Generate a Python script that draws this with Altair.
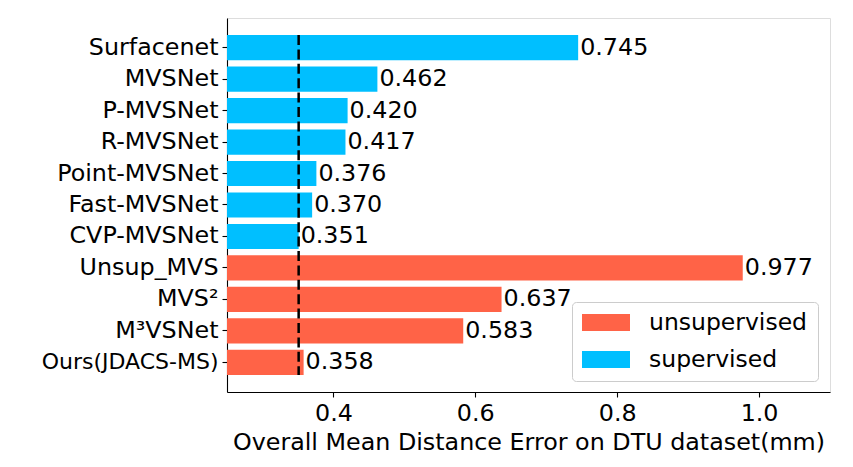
import altair as alt
import pandas as pd

methods = ["Surfacenet", "MVSNet", "P-MVSNet", "R-MVSNet", "Point-MVSNet",
           "Fast-MVSNet", "CVP-MVSNet", "Unsup_MVS", "MVS²", "M³VSNet",
           "Ours(JDACS-MS)"]
errors = [0.745, 0.462, 0.420, 0.417, 0.376, 0.370, 0.351, 0.977, 0.637, 0.583, 0.358]
groups = ["supervised"] * 7 + ["unsupervised"] * 4
group_order = ["unsupervised", "supervised"]
group_colors = ["#FF6347", "#00BFFF"]
ref_value = 0.351
x_ticks = [0.4, 0.6, 0.8, 1.0]
x_domain = [0.25, 1.1]

FONT = "DejaVu Sans"
FS = 23.8

df = pd.DataFrame({"method": methods, "error": errors, "group": groups})
ref_df = pd.DataFrame({"x": [ref_value], "top": [methods[0]], "bottom": [methods[-1]]})

yscale = alt.Scale(domain=methods, paddingInner=0.2, paddingOuter=0.54)
xscale = alt.Scale(domain=x_domain, nice=False, zero=False)

rect_path = "M-1,-0.354L1,-0.354L1,0.354L-1,0.354Z"

ylabel_size = {"condition": {"test": "datum.value === 'Ours(JDACS-MS)'", "value": 22.0},
               "value": FS}

bars = alt.Chart(df).mark_bar(clip=True).encode(
    y=alt.Y("method:N", scale=yscale, sort=methods, title=None,
            axis=alt.Axis(labelFontSize=ylabel_size, labelFont=FONT, labelColor="black",
                          labelLimit=0,
                          tickColor="black", tickSize=5, tickWidth=1.1,
                          labelPadding=4, domainColor="black", domainWidth=1.1)),
    x=alt.X("error:Q", scale=xscale,
            title="Overall Mean Distance Error on DTU dataset(mm)",
            axis=alt.Axis(values=x_ticks, format=".1f", labelFontSize=FS,
                          labelFont=FONT, labelColor="black", tickColor="black",
                          tickSize=5, tickWidth=1.1, labelPadding=4, grid=False,
                          domainColor="black", domainWidth=1.1,
                          titleFontSize=FS, titleFont=FONT, titleFontWeight="normal",
                          titleColor="black", titlePadding=6)),
    color=alt.Color("group:N",
                    scale=alt.Scale(domain=group_order, range=group_colors),
                    legend=alt.Legend(title=None, orient="none", legendX=345, legendY=284,
                                      symbolType=rect_path, symbolSize=2304,
                                      symbolStrokeWidth=0, symbolOpacity=1,
                                      clipHeight=21, rowPadding=13,
                                      labelFontSize=FS - 0.3, labelFont=FONT,
                                      labelColor="black",
                                      labelOffset=19, padding=10, labelLimit=0,
                                      strokeColor="#cccccc", cornerRadius=4,
                                      fillColor="rgba(255,255,255,0.8)")),
)

labels = alt.Chart(df).mark_text(align="left", baseline="middle", dx=2,
                                 fontSize=FS, font=FONT, color="black").encode(
    y=alt.Y("method:N", scale=yscale, sort=methods, title=None),
    x=alt.X("error:Q", scale=xscale),
    text=alt.Text("error:Q", format=".3f"),
)

rule = alt.Chart(ref_df).mark_rule(color="black", strokeWidth=2.5,
                                   strokeDash=[10, 4.4]).encode(
    x=alt.X("x:Q", scale=xscale),
    y=alt.Y("top:N", scale=yscale, bandPosition=0, title=None),
    y2=alt.Y2("bottom:N", bandPosition=1),
)

chart = alt.layer(bars, rule, labels).properties(
    width=603, height=374,
    autosize=alt.AutoSizeParams(type="none"),
    padding={"left": 219, "top": 10, "right": 15, "bottom": 67},
).configure_view(stroke="black", strokeWidth=1.1).configure(font=FONT)

chart.save("out.html", embed_options={"renderer": "svg", "actions": False})
